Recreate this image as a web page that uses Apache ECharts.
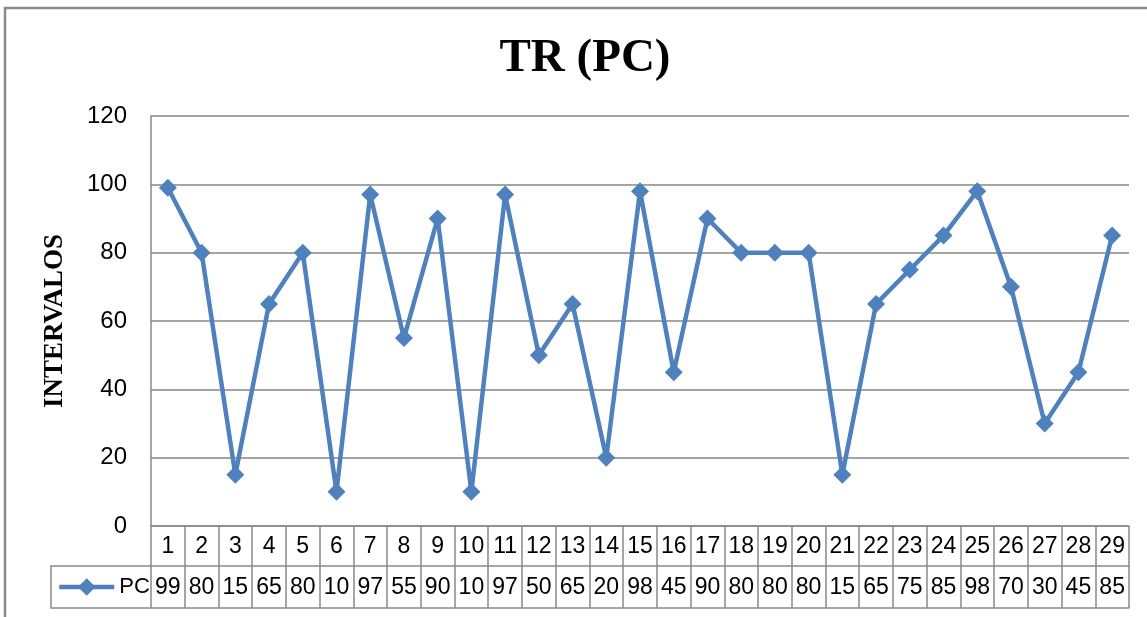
<!DOCTYPE html>
<html>
<head>
<meta charset="utf-8">
<script src="https://cdn.jsdelivr.net/npm/echarts@6/dist/echarts.min.js"></script>
<style>
  html, body { margin: 0; padding: 0; background: #fff; }
  #chart { width: 1147px; height: 617px; }
</style>
</head>
<body>
<div id="chart"></div>
<script>
// data
const categories = ['1','2','3','4','5','6','7','8','9','10','11','12','13','14','15',
  '16','17','18','19','20','21','22','23','24','25','26','27','28','29'];
const pcValues = [99, 80, 15, 65, 80, 10, 97, 55, 90, 10, 97, 50, 65, 20, 98,
  45, 90, 80, 80, 80, 15, 65, 75, 85, 98, 70, 30, 45, 85];
const yTicks = [0, 20, 40, 60, 80, 100, 120];

const blue = '#4F81BD';
const gray = '#898989';
const sans = '"Liberation Sans", Arial, sans-serif';
const serif = '"Liberation Serif", "Times New Roman", serif';

const chart = echarts.init(document.getElementById('chart'));

const option = {
  animation: false,
  title: {
    text: 'TR (PC)',
    left: 580,
    textAlign: 'center',
    top: 30,
    textStyle: { fontFamily: serif, fontWeight: 'bold', fontSize: 47, color: '#000' }
  },
  legend: {
    data: ['PC'],
    left: 57,
    top: 576,
    padding: 0,
    itemWidth: 55,
    itemHeight: 22,
    itemGap: 0,
    lineStyle: { width: 4.5 },
    textStyle: { fontFamily: sans, fontSize: 22, color: '#000' }
  },
  grid: { left: 151, right: 18, top: 116, bottom: 91 },
  xAxis: [
    {
      type: 'category',
      data: categories,
      boundaryGap: true,
      axisLine: { show: true, lineStyle: { color: gray, width: 1.5 } },
      axisTick: { show: true, interval: 0, length: 40, lineStyle: { color: gray, width: 1.5 } },
      axisLabel: { interval: 0, margin: 9, fontFamily: sans, fontSize: 23, color: '#000' },
      splitLine: { show: false }
    },
    {
      type: 'category',
      data: categories,
      position: 'bottom',
      offset: 40,
      boundaryGap: true,
      axisLine: { show: true, lineStyle: { color: gray, width: 1.5 } },
      axisTick: { show: true, interval: 0, length: 42, lineStyle: { color: gray, width: 1.5 } },
      axisLabel: {
        interval: 0, margin: 10, fontFamily: sans, fontSize: 23, color: '#000',
        formatter: (v, i) => String(pcValues[i])
      },
      splitLine: { show: false }
    },
    {
      type: 'category',
      data: categories,
      position: 'bottom',
      offset: 82,
      axisLine: { show: true, lineStyle: { color: gray, width: 1.5 } },
      axisTick: { show: false },
      axisLabel: { show: false }
    }
  ],
  yAxis: {
    type: 'value',
    min: yTicks[0],
    max: yTicks[yTicks.length - 1],
    interval: 20,
    name: 'INTERVALOS',
    nameLocation: 'middle',
    nameRotate: 90,
    nameGap: 82,
    nameTextStyle: { fontFamily: serif, fontWeight: 'bold', fontSize: 27, color: '#000' },
    axisLine: { show: true, lineStyle: { color: gray, width: 1.5 } },
    axisTick: { show: false },
    axisLabel: { margin: 24, fontFamily: sans, fontSize: 24, color: '#000' },
    splitLine: { show: true, lineStyle: { color: '#868686', width: 1.5 } }
  },
  series: [
    {
      name: 'PC',
      type: 'line',
      data: pcValues,
      xAxisIndex: 0,
      yAxisIndex: 0,
      symbol: 'diamond',
      symbolSize: 18,
      lineStyle: { color: blue, width: 4.5 },
      itemStyle: { color: blue },
      z: 5
    }
  ],
  graphic: [
    // outer chart frame
    { type: 'rect', shape: { x: 5, y: 8, width: 1170, height: 650 },
      style: { fill: 'none', stroke: '#8a8a8a', lineWidth: 2.5 }, silent: true },
    // legend cell of the data table
    { type: 'polyline', shape: { points: [[151, 566], [51, 566], [51, 608], [151, 608]] },
      style: { fill: 'none', stroke: gray, lineWidth: 1.5 }, silent: true }
  ]
};

chart.setOption(option);
</script>
</body>
</html>
